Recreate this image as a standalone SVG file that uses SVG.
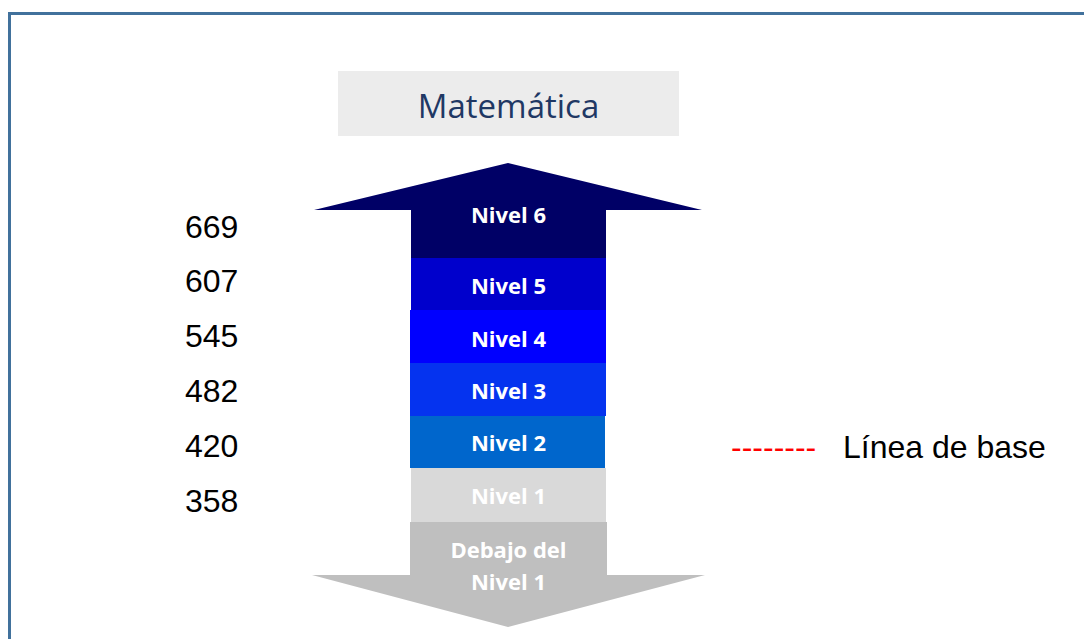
<svg xmlns="http://www.w3.org/2000/svg" width="1084" height="639" viewBox="0 0 1084 639">
<style>
.lbl{font-family:"Open Sans","Noto Sans",sans-serif;font-weight:bold;font-size:22px;fill:#ffffff;text-anchor:middle}
.num{font-family:"Liberation Sans",Arial,sans-serif;font-size:32px;fill:#000000}
</style>
<rect x="0" y="0" width="1084" height="639" fill="#ffffff"/>
<path d="M9.5,645 L9.5,13.5 L1090,13.5" fill="none" stroke="#41719c" stroke-width="3"/>
<g id="title">
<rect x="338" y="71" width="341" height="65" fill="#ececec"/>
<text x="508.5" y="118" font-family="'Open Sans','Noto Sans',sans-serif" font-size="33" fill="#1f3864" text-anchor="middle">Matemática</text>
</g>
<g id="nivel6">
<path d="M508,163 L702,210 L606,210 L606,258 L411,258 L411,210 L314,210 Z" fill="#000066"/>
<text class="lbl" x="508.5" y="223">Nivel 6</text>
</g>
<g id="nivel5">
<rect x="411" y="258" width="195" height="52" fill="#0000cc"/>
<text class="lbl" x="508.5" y="294">Nivel 5</text>
</g>
<g id="nivel4">
<rect x="410" y="310" width="196" height="53" fill="#0000ff"/>
<text class="lbl" x="508.5" y="347">Nivel 4</text>
</g>
<g id="nivel3">
<rect x="410" y="363" width="196" height="53" fill="#0533ef"/>
<text class="lbl" x="508.5" y="399">Nivel 3</text>
</g>
<g id="nivel2">
<rect x="410" y="416" width="195" height="52" fill="#0066cc"/>
<text class="lbl" x="508.5" y="451">Nivel 2</text>
</g>
<g id="nivel1">
<rect x="411" y="468" width="195" height="54" fill="#d9d9d9"/>
<text class="lbl" x="508.5" y="504">Nivel 1</text>
</g>
<g id="debajo">
<path d="M410,522 L607,522 L607,575 L705,575 L508,627 L312,575 L410,575 Z" fill="#bfbfbf"/>
<text class="lbl" x="508.5" y="558">Debajo del</text>
<text class="lbl" x="508.5" y="590">Nivel 1</text>
</g>
<g id="scores">
<text class="num" x="185" y="238">669</text>
<text class="num" x="185" y="292">607</text>
<text class="num" x="185" y="347">545</text>
<text class="num" x="185" y="402">482</text>
<text class="num" x="185" y="457">420</text>
<text class="num" x="185" y="512">358</text>
</g>
<g id="legend">
<text x="731" y="458" font-family="'Liberation Sans',Arial,sans-serif" font-size="32" fill="#ff0000">--------</text>
<text x="843" y="458" font-family="'Liberation Sans',Arial,sans-serif" font-size="32" fill="#000000">Línea de base</text>
</g>
<g id="connectors"></g>
</svg>
